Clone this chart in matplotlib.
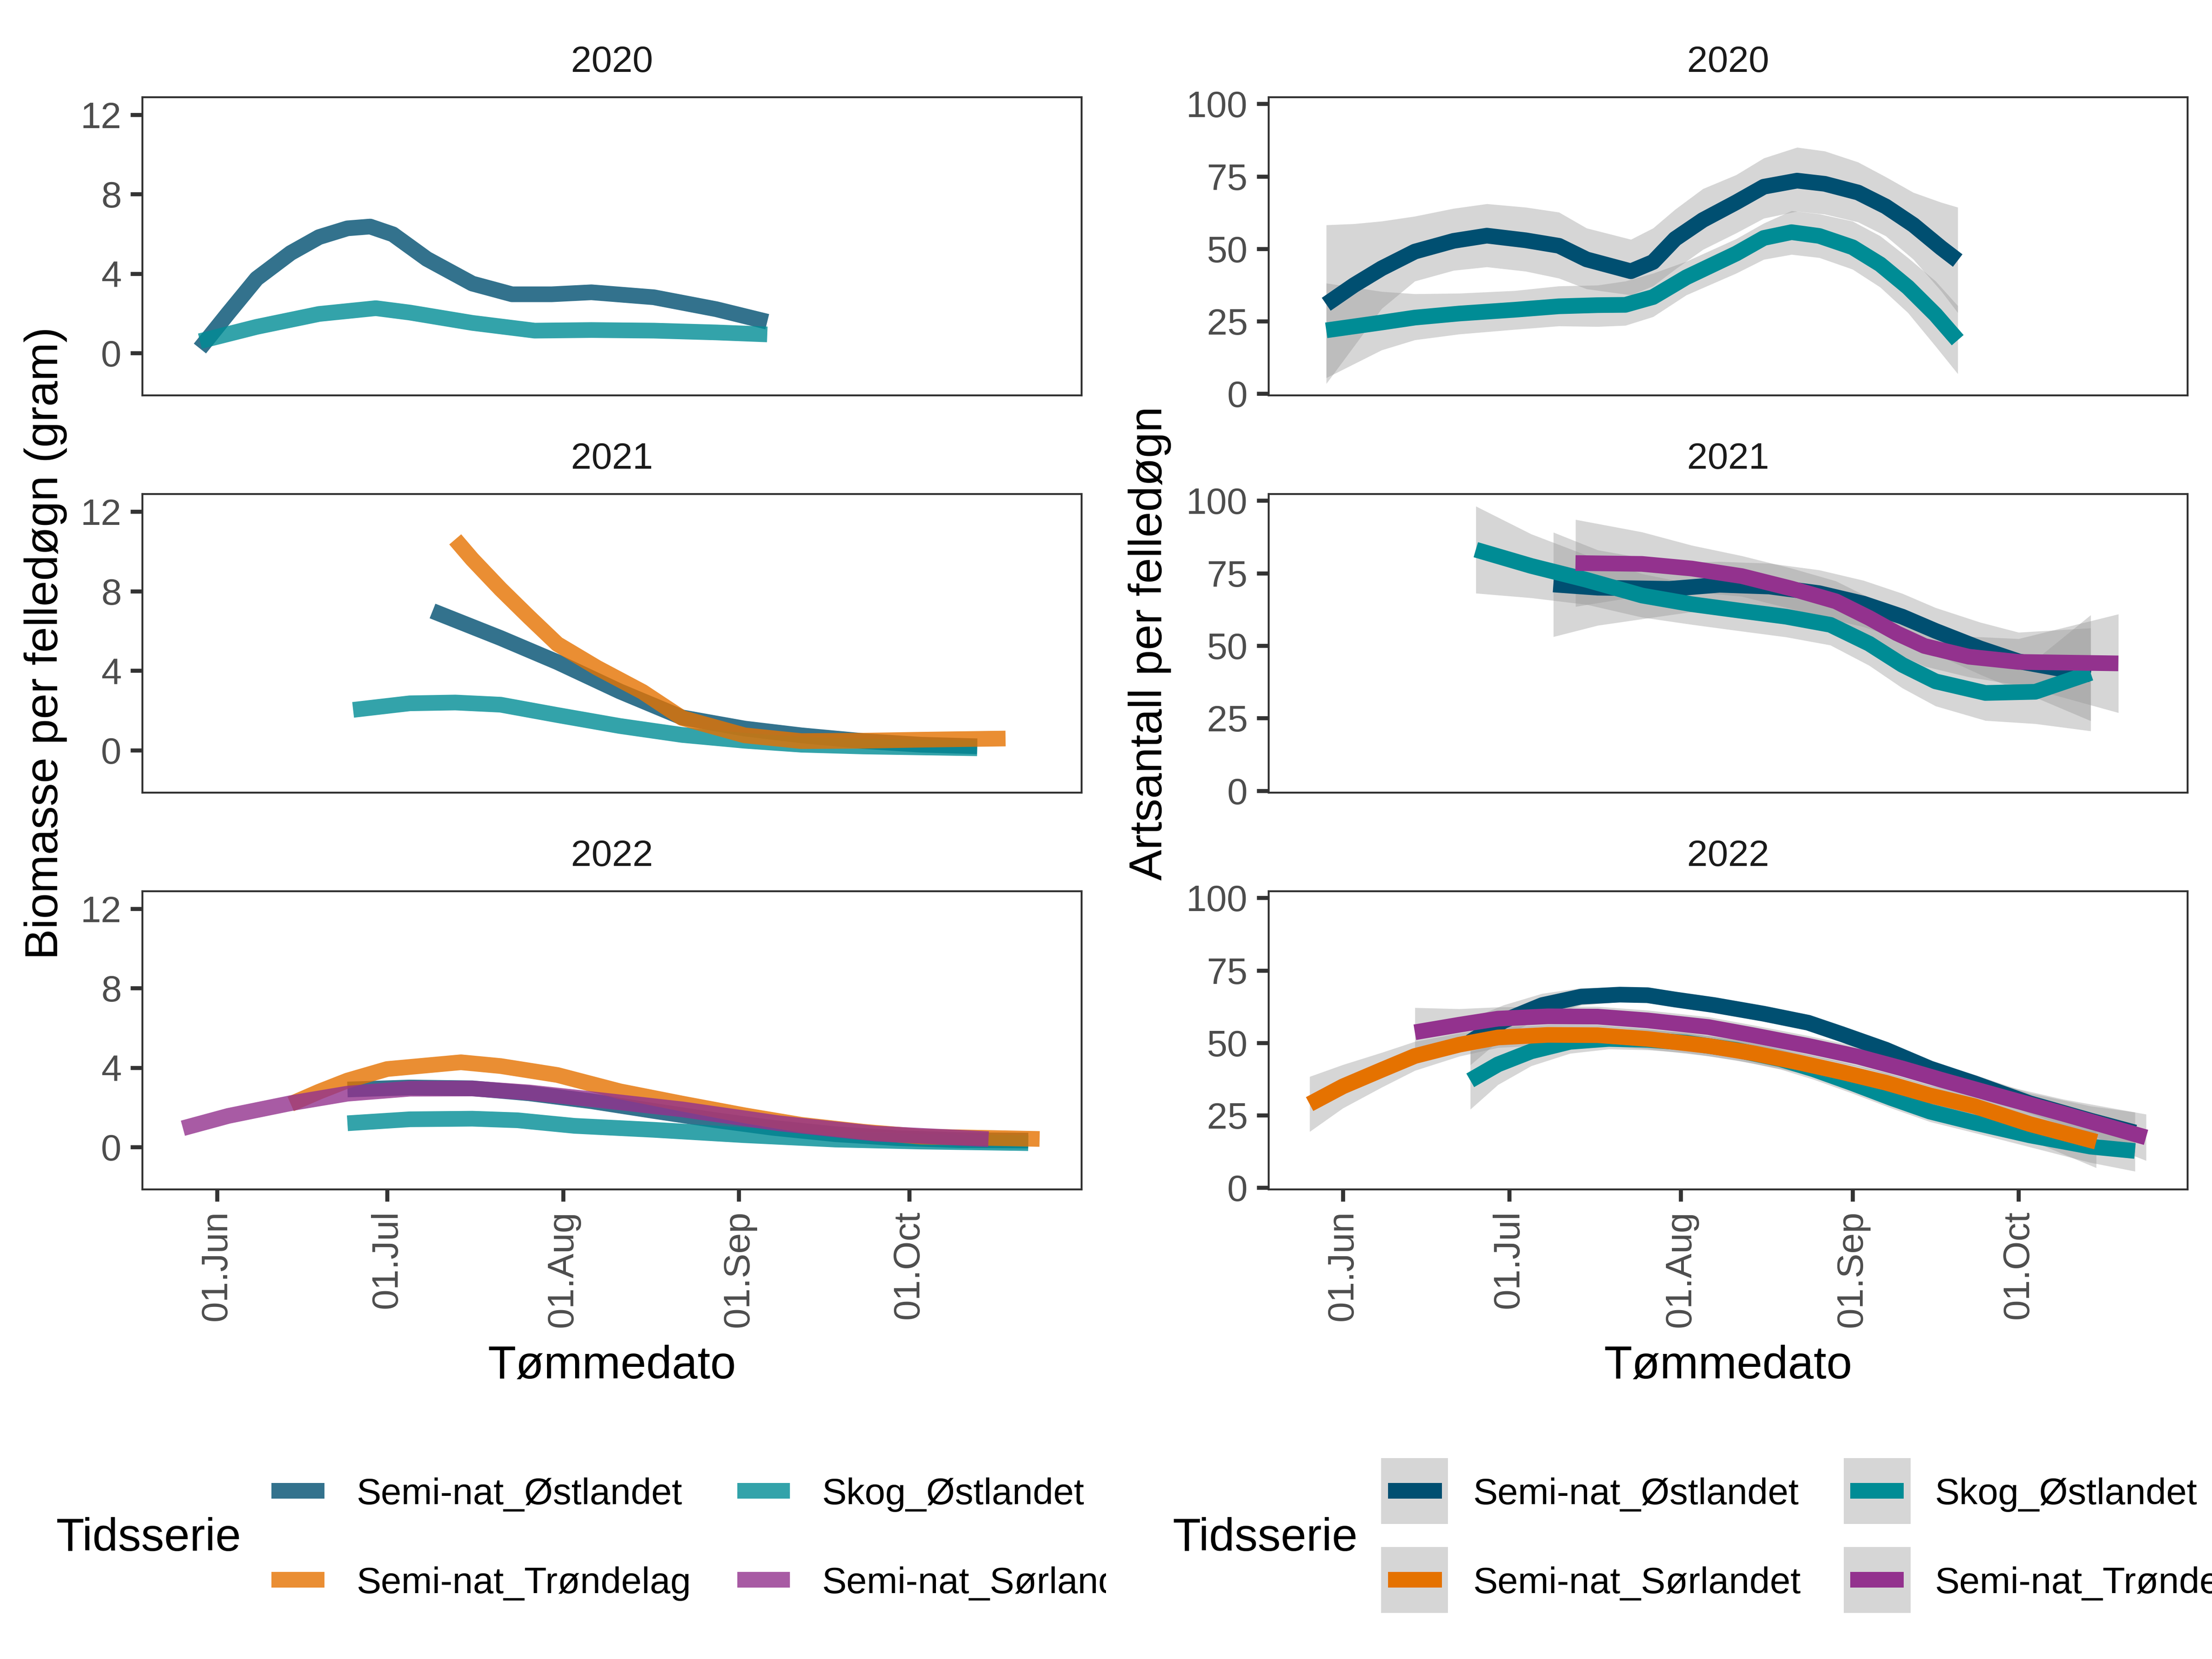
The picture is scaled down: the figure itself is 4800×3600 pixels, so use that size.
import numpy as np
import matplotlib
matplotlib.use("Agg")
import matplotlib.pyplot as plt
import matplotlib.dates as mdates
from matplotlib.lines import Line2D
from matplotlib.patches import Rectangle
from matplotlib.transforms import Bbox, TransformedBbox

plt.rcParams['font.family'] = ['Liberation Sans', 'DejaVu Sans']

# ---------------- texts / categories ----------------
years = ["2020", "2021", "2022"]
legend_title = "Tidsserie"
x_title = "Tømmedato"
y_title_left = "Biomasse per felledøgn (gram)"
y_title_right = "Artsantall per felledøgn"

left_series = ["Semi-nat_Østlandet", "Skog_Østlandet", "Semi-nat_Trøndelag", "Semi-nat_Sørlandet"]
right_series = ["Semi-nat_Østlandet", "Skog_Østlandet", "Semi-nat_Sørlandet", "Semi-nat_Trøndelag"]
palette = ["#004F71", "#008C95", "#E57200", "#93328E"]

left_yticks = [0, 4, 8, 12]
right_yticks = [0, 25, 50, 75, 100]

# ---------------- biomass (left) ----------------
bio20_ost_dates = ["05-29", "06-03", "06-08", "06-14", "06-19", "06-24", "06-28", "07-02", "07-08",
                   "07-16", "07-23", "07-30", "08-06", "08-17", "08-28", "09-06"]
bio20_ost = [0.23, 2.01, 3.75, 5.04, 5.84, 6.28, 6.37, 5.98, 4.74, 3.5, 2.96, 2.96, 3.06, 2.81, 2.21, 1.58]
bio20_skog_dates = ["05-29", "06-08", "06-19", "06-29", "07-05", "07-16", "07-27", "08-06", "08-17", "08-28", "09-06"]
bio20_skog = [0.6, 1.32, 1.97, 2.26, 2.04, 1.52, 1.13, 1.16, 1.13, 1.04, 0.94]

bio21_ost_dates = ["07-09", "07-21", "07-31", "08-11", "08-22", "09-02", "09-12", "09-23", "10-03", "10-13"]
bio21_ost = [7.0, 5.64, 4.43, 2.96, 1.65, 1.09, 0.75, 0.46, 0.28, 0.2]
bio21_skog_dates = ["06-25", "07-05", "07-13", "07-21", "07-31", "08-11", "08-22", "09-02", "09-12", "09-23", "10-13"]
bio21_skog = [2.03, 2.36, 2.40, 2.29, 1.77, 1.22, 0.77, 0.48, 0.28, 0.19, 0.10]
bio21_trond_dates = ["07-13", "07-16", "07-21", "07-26", "07-31", "08-07", "08-15", "08-22", "09-02",
                     "09-12", "09-23", "10-03", "10-18"]
bio21_trond = [10.6, 9.6, 8.1, 6.7, 5.34, 4.15, 2.94, 1.62, 0.75, 0.46, 0.48, 0.53, 0.59]

bio22_ost_dates = ["06-24", "07-05", "07-16", "07-26", "08-06", "08-17", "08-28", "09-07", "09-18", "09-29", "10-10", "10-22"]
bio22_ost = [2.90, 3.0, 2.96, 2.71, 2.31, 1.82, 1.35, 0.97, 0.65, 0.45, 0.35, 0.33]
bio22_skog_dates = ["06-24", "07-05", "07-16", "07-24", "08-03", "08-17", "09-02", "09-18", "10-03", "10-22"]
bio22_skog = [1.2, 1.40, 1.43, 1.35, 1.07, 0.87, 0.60, 0.38, 0.28, 0.2]
bio22_trond_dates = ["06-14", "06-19", "06-24", "07-01", "07-14", "07-21", "07-31", "08-11", "08-22",
                     "09-02", "09-12", "09-23", "10-03", "10-24"]
bio22_trond = [2.17, 2.79, 3.35, 3.93, 4.27, 4.08, 3.63, 2.81, 2.19, 1.60, 1.12, 0.77, 0.53, 0.41]
bio22_sor_dates = ["05-26", "06-03", "06-14", "06-24", "07-05", "07-16", "07-26", "08-08", "08-22", "09-08", "09-25", "10-15"]
bio22_sor = [0.95, 1.57, 2.21, 2.69, 2.94, 2.95, 2.75, 2.35, 1.9, 1.2, 0.68, 0.4]

# ---------------- species richness (right) ----------------
art20_ost_dates = ["05-29", "06-03", "06-08", "06-14", "06-21", "06-27", "07-04", "07-10", "07-15", "07-23", "07-27",
                   "07-31", "08-05", "08-11", "08-16", "08-22", "08-27", "09-02", "09-07", "09-12", "09-17", "09-20"]
art20_ost = [30.8, 37.4, 43.2, 49.0, 52.7, 54.5, 52.9, 51.0, 46.3, 42.2, 45.4,
             53.4, 59.9, 66.0, 71.4, 73.5, 72.4, 69.4, 64.6, 58.2, 50.3, 45.9]
art20_ost_lo = [3.4, 16.3, 29.3, 38.8, 42.5, 43.7, 42.2, 39.8, 36.1, 34.0, 37.1,
                42.9, 49.7, 55.4, 60.5, 62.9, 61.9, 59.2, 54.4, 46.3, 35.4, 27.9]
art20_ost_hi = [58.2, 58.6, 59.5, 61.2, 63.9, 65.5, 64.3, 62.6, 57.1, 53.2, 57.1,
                63.6, 70.7, 75.5, 81.3, 85.0, 83.7, 79.9, 74.8, 69.4, 66.0, 64.3]
art20_skog_dates = ["05-29", "06-08", "06-14", "06-22", "07-02", "07-10", "07-17", "07-22", "07-27", "08-02",
                    "08-11", "08-16", "08-21", "08-26", "09-01", "09-06", "09-11", "09-16", "09-20"]
art20_skog = [21.8, 24.5, 26.2, 27.6, 28.9, 30.1, 30.5, 30.6, 33.3, 40.1,
              48.3, 53.7, 55.7, 54.4, 50.5, 44.6, 36.7, 27.2, 18.4]
art20_skog_lo = [5.4, 15.0, 18.5, 20.5, 22.1, 23.3, 23.1, 23.5, 26.5, 34.0,
                 41.5, 46.3, 48.0, 46.9, 42.9, 36.7, 27.9, 16.3, 6.8]
art20_skog_hi = [38.1, 35.2, 34.4, 34.6, 35.5, 37.1, 37.4, 38.8, 41.5, 45.6,
                 53.4, 58.8, 63.1, 62.0, 59.5, 54.4, 46.9, 38.8, 30.3]

art21_ost_dates = ["07-09", "07-17", "07-30", "08-08", "08-17", "08-26", "09-03", "09-10", "09-16", "09-24", "10-01", "10-14"]
art21_ost = [71.1, 70.0, 69.6, 71.0, 70.4, 68.1, 64.5, 60.0, 55.1, 49.1, 44.6, 40.1]
art21_ost_hw = [18, 13, 9, 8, 8, 8, 8, 8, 8, 9, 10, 16]
art21_skog_dates = ["06-25", "07-05", "07-15", "07-25", "08-03", "08-12", "08-20", "08-28", "09-04", "09-10",
                    "09-16", "09-25", "10-04", "10-14"]
art21_skog = [83.1, 77.5, 72.7, 67.3, 64.3, 62.0, 60.0, 57.2, 50.7, 43.4, 37.7, 33.7, 34.1, 40.6]
art21_skog_hw = [15, 11, 8.5, 7.5, 7, 7, 7, 7, 7.5, 8, 8.5, 9.5, 11, 20]
art21_trond_dates = ["07-13", "07-25", "08-03", "08-12", "08-21", "08-29", "09-04", "09-09", "09-14", "09-22", "10-01", "10-19"]
art21_trond = [78.5, 78.2, 76.6, 74.0, 69.7, 65.3, 59.6, 54.3, 49.9, 46.2, 44.4, 43.9]
art21_trond_hw = [15, 11, 8, 7, 7, 7, 7, 7, 7, 7, 8, 17]

art22_ost_dates = ["06-24", "06-30", "07-07", "07-14", "07-21", "07-26", "07-31", "08-07", "08-16", "08-24",
                   "08-30", "09-07", "09-15", "09-23", "10-03", "10-14", "10-22"]
art22_ost = [50.3, 57.5, 63.0, 65.9, 66.6, 66.4, 64.9, 63.0, 60.0, 56.9, 53.0, 47.6, 41.1, 36.0, 29.1, 23.1, 19.0]
art22_ost_hw = [8, 5.5, 4, 3, 2.5, 2.5, 2.5, 2.5, 2.5, 2.5, 2.5, 2.5, 2.5, 3, 3.5, 5, 7]
art22_skog_dates = ["06-24", "06-29", "07-05", "07-12", "07-19", "07-26", "08-02", "08-11", "08-19", "08-25",
                    "09-01", "09-08", "09-15", "09-23", "10-03", "10-14", "10-22"]
art22_skog = [37.0, 42.5, 47.0, 50.3, 51.3, 51.0, 50.0, 47.5, 44.3, 40.8, 36.0, 30.9, 26.2, 22.4, 18.0, 14.1, 12.6]
art22_skog_hw = [10, 7, 5, 4, 3.5, 3.5, 3.5, 3.5, 3.5, 3.5, 3.5, 3.5, 3.5, 3.5, 4, 5.5, 7]
art22_sor_dates = ["05-26", "06-01", "06-08", "06-14", "06-22", "06-29", "07-08", "07-17", "07-26", "08-06",
                   "08-14", "08-22", "08-30", "09-07", "09-15", "09-23", "10-03", "10-15"]
art22_sor = [28.8, 34.9, 40.6, 45.4, 49.3, 51.8, 52.7, 52.6, 51.3, 48.9, 46.4, 43.3, 39.9, 36.2, 31.8, 28.1, 21.9, 15.8]
art22_sor_hw = [9.5, 7.5, 6, 5, 4, 3.5, 3.5, 3.5, 3.5, 3.5, 3.5, 3.5, 3.5, 3.5, 3.5, 4, 5.5, 9]
art22_trond_dates = ["06-14", "06-22", "06-29", "07-08", "07-17", "07-26", "08-06", "08-14", "08-24", "09-02",
                     "09-10", "09-17", "09-28", "10-09", "10-24"]
art22_trond = [53.6, 56.2, 58.3, 59.1, 59.0, 57.7, 55.4, 52.6, 48.9, 45.2, 41.1, 37.2, 31.3, 25.5, 17.3]
art22_trond_hw = [8.5, 5.5, 4, 3.5, 3.5, 3.5, 3.5, 3.5, 3.5, 3.5, 3.5, 3.5, 4, 5, 8]


def to_dates(md):
    return np.array(["2020-" + d for d in md], dtype="datetime64[D]")


def band(mid, hw):
    m = np.asarray(mid, float)
    h = np.asarray(hw, float)
    return m - h, m + h


left_data = {
    "2020": {"Semi-nat_Østlandet": (bio20_ost_dates, bio20_ost),
             "Skog_Østlandet": (bio20_skog_dates, bio20_skog)},
    "2021": {"Semi-nat_Østlandet": (bio21_ost_dates, bio21_ost),
             "Skog_Østlandet": (bio21_skog_dates, bio21_skog),
             "Semi-nat_Trøndelag": (bio21_trond_dates, bio21_trond)},
    "2022": {"Semi-nat_Østlandet": (bio22_ost_dates, bio22_ost),
             "Skog_Østlandet": (bio22_skog_dates, bio22_skog),
             "Semi-nat_Trøndelag": (bio22_trond_dates, bio22_trond),
             "Semi-nat_Sørlandet": (bio22_sor_dates, bio22_sor)},
}

right_data = {
    "2020": {"Semi-nat_Østlandet": (art20_ost_dates, art20_ost, art20_ost_lo, art20_ost_hi),
             "Skog_Østlandet": (art20_skog_dates, art20_skog, art20_skog_lo, art20_skog_hi)},
    "2021": {"Semi-nat_Østlandet": (art21_ost_dates, art21_ost, *band(art21_ost, art21_ost_hw)),
             "Skog_Østlandet": (art21_skog_dates, art21_skog, *band(art21_skog, art21_skog_hw)),
             "Semi-nat_Trøndelag": (art21_trond_dates, art21_trond, *band(art21_trond, art21_trond_hw))},
    "2022": {"Semi-nat_Østlandet": (art22_ost_dates, art22_ost, *band(art22_ost, art22_ost_hw)),
             "Skog_Østlandet": (art22_skog_dates, art22_skog, *band(art22_skog, art22_skog_hw)),
             "Semi-nat_Sørlandet": (art22_sor_dates, art22_sor, *band(art22_sor, art22_sor_hw)),
             "Semi-nat_Trøndelag": (art22_trond_dates, art22_trond, *band(art22_trond, art22_trond_hw))},
}

# ---------------- layout ----------------
W, H = 4800, 3600
fig = plt.figure(figsize=(16, 12), dpi=300)


def fx(px):
    return px / W


def fy(py):
    return 1 - py / H


LW = 34 / 300 * 72
left_x = (309, 2347)
right_x = (2753, 4747)
row_tops = [211, 1072, 1934]
row_bots = [858, 1720, 2581]

jun1 = mdates.date2num(np.datetime64("2020-06-01"))
left_xlim = (jun1 - 13.14, jun1 + 152.4)
right_xlim = (jun1 - 13.39, jun1 + 152.5)
left_ylim = (-2.13, 12.88)
right_ylim = (-0.67, 102.3)

TICK_COL = "#333333"
LABEL_COL = "#4D4D4D"
SMALL = 19.2
BIG = 24


def make_ax(xr, i):
    ax = fig.add_axes([fx(xr[0]), fy(row_bots[i]), fx(xr[1] - xr[0]), (row_bots[i] - row_tops[i]) / H])
    for s in ax.spines.values():
        s.set_color(TICK_COL)
        s.set_linewidth(1.0)
    ax.tick_params(axis="both", direction="out", length=6.2, width=2.1, color=TICK_COL,
                   labelsize=SMALL, labelcolor=LABEL_COL, pad=4.7)
    ax.xaxis.set_major_locator(mdates.MonthLocator(bymonthday=1))
    ax.xaxis.set_major_formatter(mdates.DateFormatter("%d.%b"))
    if i == 2:
        ax.tick_params(axis="x", labelrotation=90, pad=4.6)
    else:
        ax.tick_params(axis="x", bottom=False, labelbottom=False)
    ax.annotate(years[i], xy=(0.5, 1), xycoords="axes fraction", xytext=(0, 13.2),
                textcoords="offset points", ha="center", va="baseline", fontsize=SMALL, color="#1A1A1A")
    return ax


for i, yr in enumerate(years):
    # left: biomass
    ax = make_ax(left_x, i)
    for name, col in zip(left_series, palette):
        if name in left_data[yr]:
            d, v = left_data[yr][name]
            ax.plot(to_dates(d), v, color=col, alpha=0.8, lw=LW, solid_capstyle="butt",
                    solid_joinstyle="round")
    ax.set_xlim(left_xlim)
    ax.set_ylim(left_ylim)
    ax.set_yticks(left_yticks)

    # right: species richness
    ax = make_ax(right_x, i)
    for name, col in zip(right_series, palette):
        if name in right_data[yr]:
            d, v, lo, hi = right_data[yr][name]
            dd = to_dates(d)
            ax.fill_between(dd, lo, hi, color="#999999", alpha=0.4, lw=0)
            ax.plot(dd, v, color=col, lw=LW, solid_capstyle="butt", solid_joinstyle="round")
    ax.set_xlim(right_xlim)
    ax.set_ylim(right_ylim)
    ax.set_yticks(right_yticks)

# axis titles
fig.text(fx(99), fy(1396), y_title_left, rotation=90, ha="center", va="center", fontsize=BIG)
fig.text(fx(2495), fy(1396), y_title_right, rotation=90, ha="center", va="center", fontsize=BIG)
fig.text(fx(1328), fy(2991), x_title, ha="center", va="baseline", fontsize=BIG)
fig.text(fx(3750), fy(2991), x_title, ha="center", va="baseline", fontsize=BIG)

# ---------------- legends ----------------
row_c = [3235, 3428]
row_base = [3264, 3457]


def legend(title_x, key_x, text_x, order, colors, alpha, bg_x=None, clip=None):
    fig.text(fx(title_x), fy(3365), legend_title, ha="left", va="baseline", fontsize=BIG)
    for k, (name, col) in enumerate(zip(order, colors)):
        r, c = divmod(k, 2)
        if bg_x is not None:
            fig.add_artist(Rectangle((fx(bg_x[c]), fy(row_c[r] + 72)), 145 / W, 143 / H,
                                     transform=fig.transFigure, facecolor="#D6D6D6", edgecolor="none"))
        fig.add_artist(Line2D([fx(key_x[c][0]), fx(key_x[c][1])], [fy(row_c[r]), fy(row_c[r])],
                              transform=fig.transFigure, color=col, alpha=alpha, lw=LW,
                              solid_capstyle="butt"))
        tt = fig.text(fx(text_x[c]), fy(row_base[r]), name, ha="left", va="baseline", fontsize=SMALL)
        if clip is not None:
            tt.set_clip_box(clip)
            tt.set_clip_on(True)


left_clip = TransformedBbox(Bbox([[0, 0], [0.5, 1]]), fig.transFigure)
legend(122, [(589, 704), (1600, 1714)], [773, 1783], left_series, palette, 0.8, clip=left_clip)
legend(2545, [(3012, 3129), (4015, 4131)], [3196, 4198], right_series, palette, 1.0, bg_x=[2997, 4001])

fig.savefig("out.png", dpi=300)
